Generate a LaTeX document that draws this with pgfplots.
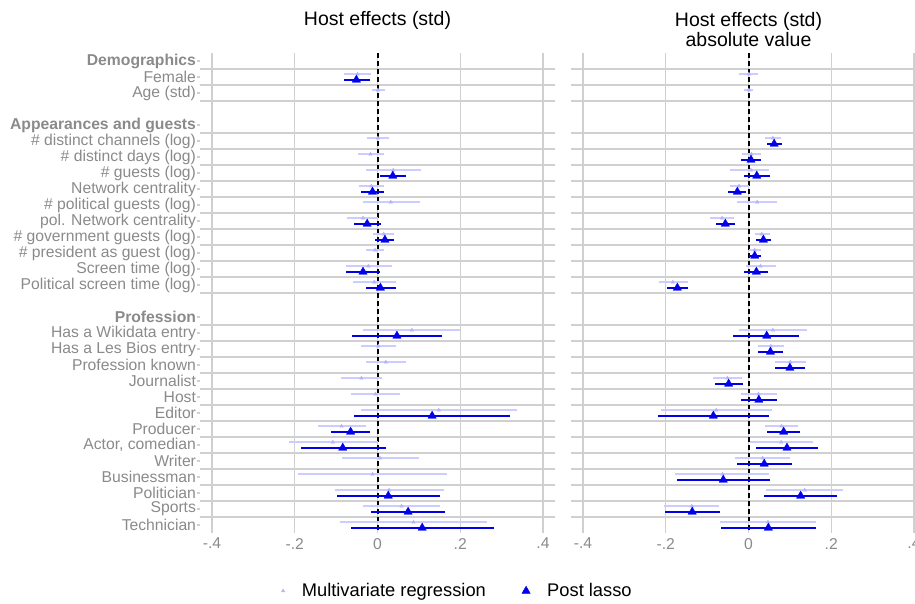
\documentclass[border=0pt]{standalone}
\usepackage{fontspec}
\setmainfont{Liberation Sans}
\usepackage{pgfplots}
\usepackage{pgfplotstable}
\pgfplotsset{compat=1.18}
\definecolor{multic}{RGB}{204,204,255}
\definecolor{multim}{RGB}{180,180,255}
\definecolor{lassoc}{RGB}{0,0,235}
\definecolor{labgray}{RGB}{138,138,138}
\definecolor{gridc}{RGB}{208,208,208}

% left panel: Host effects (std)
\pgfplotstableread{
row est lo hi
1 -0.048 -0.080 -0.015
2 0.001 -0.014 0.017
5 0.001 -0.026 0.027
6 -0.017 -0.048 0.016
7 0.038 -0.029 0.106
8 -0.015 -0.045 0.016
9 0.032 -0.035 0.102
10 -0.035 -0.074 0.001
11 0.015 -0.011 0.041
12 -0.006 -0.027 0.015
13 -0.022 -0.077 0.034
14 -0.008 -0.060 0.045
17 0.083 -0.034 0.200
18 0.002 -0.040 0.045
19 0.020 -0.029 0.070
20 -0.039 -0.089 0.011
21 -0.005 -0.063 0.054
22 0.148 -0.040 0.338
23 -0.087 -0.145 -0.029
24 -0.108 -0.215 0.000
25 0.006 -0.087 0.101
26 -0.012 -0.191 0.168
27 0.028 -0.102 0.160
28 0.058 -0.035 0.152
29 0.087 -0.091 0.265
}\LM
\pgfplotstableread{
row est lo hi
1 -0.051 -0.082 -0.018
7 0.037 0.005 0.070
8 -0.012 -0.039 0.016
10 -0.025 -0.056 0.008
11 0.018 -0.005 0.039
13 -0.035 -0.075 0.007
14 0.007 -0.028 0.045
17 0.047 -0.062 0.155
22 0.132 -0.056 0.321
23 -0.065 -0.113 -0.017
24 -0.084 -0.186 0.020
27 0.026 -0.098 0.150
28 0.074 -0.015 0.164
29 0.108 -0.064 0.281
}\LL
% right panel: absolute value
\pgfplotstableread{
row est lo hi
1 0.001 -0.023 0.023
2 0.001 -0.010 0.012
5 0.059 0.040 0.078
6 0.007 -0.015 0.031
7 0.006 -0.044 0.049
8 -0.023 -0.044 0.000
9 0.021 -0.027 0.070
10 -0.064 -0.093 -0.035
11 0.032 0.016 0.053
12 0.015 0.001 0.031
13 0.029 -0.006 0.067
14 -0.183 -0.217 -0.147
17 0.059 -0.023 0.142
18 0.054 0.024 0.086
19 0.101 0.065 0.138
20 -0.051 -0.086 -0.016
21 0.024 -0.018 0.069
22 -0.078 -0.212 0.057
23 0.080 0.039 0.120
24 0.079 0.003 0.155
25 0.034 -0.032 0.100
26 -0.063 -0.178 0.050
27 0.136 0.043 0.229
28 -0.137 -0.204 -0.072
29 0.047 -0.070 0.164
}\RM
\pgfplotstableread{
row est lo hi
5 0.062 0.044 0.081
6 0.006 -0.017 0.029
7 0.020 -0.010 0.051
8 -0.027 -0.049 -0.006
10 -0.056 -0.078 -0.033
11 0.036 0.019 0.054
12 0.015 0.001 0.031
13 0.019 -0.010 0.048
14 -0.172 -0.197 -0.147
17 0.044 -0.037 0.122
18 0.053 0.024 0.083
19 0.100 0.065 0.136
20 -0.048 -0.081 -0.013
21 0.025 -0.018 0.068
22 -0.085 -0.219 0.049
23 0.085 0.045 0.124
24 0.093 0.018 0.168
25 0.038 -0.027 0.104
26 -0.061 -0.173 0.053
27 0.126 0.038 0.215
28 -0.136 -0.202 -0.069
29 0.048 -0.066 0.162
}\RL

\pgfplotsset{
  panel/.style={
    width=355pt, height=480pt, scale only axis,
    xmin=-0.429, xmax=0.429, ymin=-0.5, ymax=29.5, y dir=reverse,
    axis line style={draw=none},
    xtick={-0.4,-0.2,0,0.2,0.4},
    xticklabels={-.4,-.2,0,.2,.4},
    xmajorgrids,
    major grid style={gridc, line width=1.3pt},
    xtick style={draw=none},
    ytick={0,1,2,4,5,6,7,8,9,10,11,12,13,14,16,17,18,19,20,21,22,23,24,25,26,27,28,29},
    ytick pos=left,
    ytick style={gridc, line width=1.2pt},
    major tick length=3pt, tick align=outside,
    extra y ticks={0.5,1.5,2.5,4.5,5.5,6.5,7.5,8.5,9.5,10.5,11.5,12.5,13.5,14.5,16.5,17.5,18.5,19.5,20.5,21.5,22.5,23.5,24.5,25.5,26.5,27.5,28.5},
    extra y tick labels={},
    extra y tick style={grid=major, major tick length=0pt},
    tick label style={font=\fontsize{15.7}{18}\selectfont, text=labgray},
    xticklabel style={yshift=1.5pt},
    yticklabel style={xshift=2.5pt},
    /pgf/number format/assume math mode=true,
    clip=false,
  },
  multi/.style={only marks, mark=triangle*, mark size=2pt, color=multim,
    error bars/.cd, x dir=both, x explicit,
    error bar style={line width=1.7pt, color=multic}, error mark=none},
  lasso/.style={only marks, mark=triangle*, mark size=4.8pt, color=lassoc,
    error bars/.cd, x dir=both, x explicit,
    error bar style={line width=1.7pt, color=lassoc}, error mark=none},
}

\begin{document}
\begin{tikzpicture}
\begin{axis}[panel, name=L,
  yticklabels={\textbf{Demographics},Female,Age (std),
    \textbf{Appearances and guests},\# distinct channels (log),\# distinct days (log),\# guests (log),Network centrality,\# political guests (log),pol. Network centrality,\# government guests (log),\# president as guest (log),Screen time (log),Political screen time (log),
    \textbf{Profession},Has a Wikidata entry,Has a Les Bios entry,Profession known,Journalist,Host,Editor,Producer,{Actor, comedian},Writer,Businessman,Politician,Sports,Technician},
  legend style={at={(0.7254,-0.1208)}, anchor=center, draw=none, fill=none,
    font=\fontsize{18.3}{21}\selectfont, legend columns=2,
    /tikz/every odd column/.append style={column sep=15pt},
    /tikz/every even column/.append style={column sep=34pt}},
]
\addplot[black, line width=2pt, dash pattern=on 5pt off 3pt, forget plot] coordinates {(0,-0.5) (0,29.5)};
\addplot[multi] table[x=est, y expr=\thisrow{row}-0.18, x error plus expr=\thisrow{hi}-\thisrow{est}, x error minus expr=\thisrow{est}-\thisrow{lo}] {\LM};
\addlegendentry{Multivariate regression}
\addplot[lasso] table[x=est, y expr=\thisrow{row}+0.18, x error plus expr=\thisrow{hi}-\thisrow{est}, x error minus expr=\thisrow{est}-\thisrow{lo}] {\LL};
\addlegendentry{Post lasso}
\node[font=\fontsize{19.5}{22}\selectfont, anchor=center] at (rel axis cs:0.5,1) [yshift=33pt] {Host effects (std)};
\end{axis}
\begin{axis}[panel, at={(L.south west)}, anchor=south west, xshift=371pt,
  yticklabels={}, ytick style={draw=none}]
\addplot[black, line width=2pt, dash pattern=on 5pt off 3pt] coordinates {(0,-0.5) (0,29.5)};
\addplot[multi] table[x=est, y expr=\thisrow{row}-0.18, x error plus expr=\thisrow{hi}-\thisrow{est}, x error minus expr=\thisrow{est}-\thisrow{lo}] {\RM};
\addplot[lasso] table[x=est, y expr=\thisrow{row}+0.18, x error plus expr=\thisrow{hi}-\thisrow{est}, x error minus expr=\thisrow{est}-\thisrow{lo}] {\RL};
\node[font=\fontsize{19.5}{20}\selectfont, align=center, anchor=center] at (rel axis cs:0.5,1) [yshift=23pt] {Host effects (std)\\absolute value};
\end{axis}
\pgfresetboundingbox
\path ([shift={(-200pt,-71pt)}]L.south west) rectangle ([shift={(715pt,533pt)}]L.south west);
\end{tikzpicture}
\end{document}
